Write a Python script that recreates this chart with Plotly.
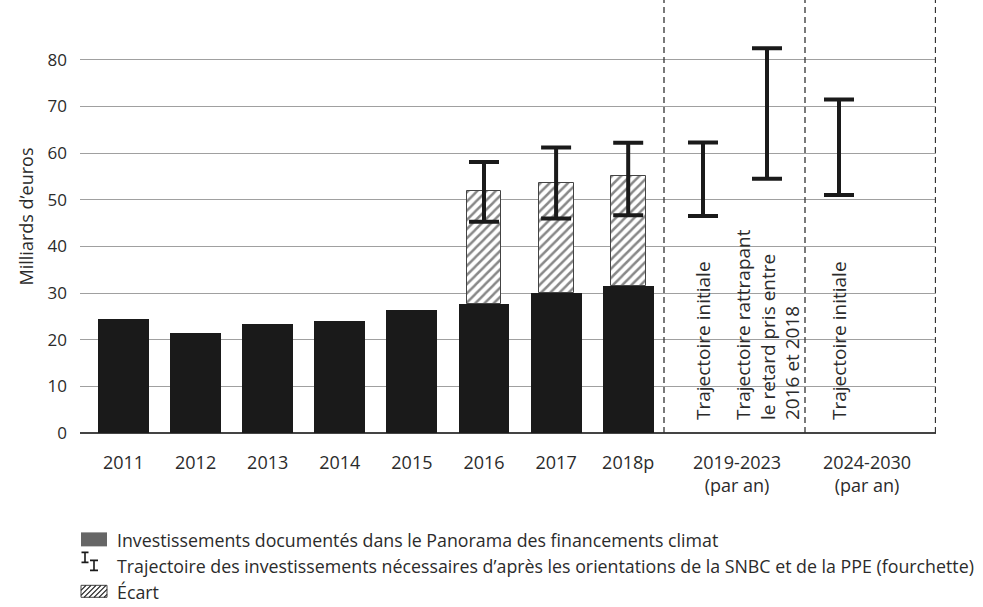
import plotly.graph_objects as go

# ---------------- data ----------------
years = ["2011", "2012", "2013", "2014", "2015", "2016", "2017", "2018p"]
invest = [24.4, 21.4, 23.4, 24.0, 26.3, 27.6, 30.0, 31.6]

ecart_years = ["2016", "2017", "2018p"]
ecart = [24.2, 23.5, 23.4]          # hatched part above documented investments
need_low = [45.3, 46.0, 46.7]
need_high = [58.1, 61.2, 62.2]

periods = ["2019-2023<br>(par an)", "2024-2030<br>(par an)"]
future_labels = ["Trajectoire initiale",
                 "Trajectoire rattrapant<br>le retard pris entre<br>2016 et 2018",
                 "Trajectoire initiale"]
future_low = [46.5, 54.5, 51.0]
future_high = [62.3, 82.5, 71.5]

legend_labels = [
    "Investissements documentés dans le Panorama des financements climat",
    "Trajectoire des investissements nécessaires d’après les orientations de la SNBC et de la PPE (fourchette)",
    "Écart",
]

# ---------------- layout helpers ----------------
FONT = "Open Sans"
TXT = "#2b2b2b"
INK = "#1a1a1a"
W, H = 983, 607
L, R, T, B = 80, 47, 0, 173.5
PW, PH = W - L - R, H - T - B
SPACING = 72.1
X0 = 123.5                      # pixel centre of first category


def xd(px):                     # pixel -> x data
    return (px - X0) / SPACING


def px2paper_x(px):
    return (px - L) / PW


def py2paper_y(py):
    return (H - B - py) / PH


YMAX = (H - B - T) / 4.67

x_years = list(range(len(years)))
x_ecart = [years.index(y) for y in ecart_years]
x_future = [xd(703), xd(767), xd(839)]
sep_x = [xd(664), xd(805), xd(935.5)]
period_x = [xd(737), xd(867)]

fig = go.Figure()

# hatched gap bars (behind)
fig.add_trace(go.Bar(
    x=x_ecart, y=ecart, base=[invest[i] for i in x_ecart], width=0.485,
    marker=dict(color="white", line=dict(color="#444", width=1),
                pattern=dict(shape="/", fgcolor="#111", bgcolor="white",
                             size=6.5, solidity=0.38)),
    showlegend=False, hoverinfo="skip"))

# documented investments
fig.add_trace(go.Bar(
    x=x_years, y=invest, width=0.707,
    marker=dict(color=INK, line=dict(width=0)),
    showlegend=False))

# needed ranges (past years)
fig.add_trace(go.Scatter(
    x=x_ecart, y=need_low, mode="markers",
    marker=dict(size=1, color="rgba(0,0,0,0)"),
    error_y=dict(type="data", symmetric=False,
                 array=[h - l for h, l in zip(need_high, need_low)],
                 arrayminus=[0] * len(need_low),
                 thickness=4, width=15, color=INK),
    showlegend=False))

# needed ranges (future periods)
fig.add_trace(go.Scatter(
    x=x_future, y=future_low, mode="markers",
    marker=dict(size=1, color="rgba(0,0,0,0)"),
    error_y=dict(type="data", symmetric=False,
                 array=[h - l for h, l in zip(future_high, future_low)],
                 arrayminus=[0] * len(future_low),
                 thickness=4, width=15, color=INK),
    showlegend=False))

shapes = []
for sx in sep_x:
    shapes.append(dict(type="line", xref="x", yref="paper", x0=sx, x1=sx,
                       y0=0, y1=1, line=dict(color="#333", width=1.3, dash="6px,4px")))

annotations = []
for xf, lab in zip(x_future, future_labels):
    annotations.append(dict(x=xf, y=(H - B - 423) / 4.67, xref="x", yref="y",
                            text=lab, textangle=-90, showarrow=False,
                            xanchor="center", yanchor="bottom", align="left",
                            font=dict(family=FONT, size=19, color=TXT)))

# ---------------- custom legend ----------------
rows_y = [540.5, 566.5, 592.5]
text_x = 115
# row 1: grey square
shapes.append(dict(type="rect", xref="paper", yref="paper",
                   x0=px2paper_x(81), x1=px2paper_x(107),
                   y0=py2paper_y(547), y1=py2paper_y(533),
                   fillcolor="#666", line=dict(width=0)))
# row 2: two small I-beams
for cx, top, bot, hw in [(85, 553, 563, 3.5), (94, 561, 571, 4)]:
    path = (f"M{px2paper_x(cx)},{py2paper_y(top)} L{px2paper_x(cx)},{py2paper_y(bot)} "
            f"M{px2paper_x(cx - hw)},{py2paper_y(top)} L{px2paper_x(cx + hw)},{py2paper_y(top)} "
            f"M{px2paper_x(cx - hw)},{py2paper_y(bot)} L{px2paper_x(cx + hw)},{py2paper_y(bot)}")
    shapes.append(dict(type="path", xref="paper", yref="paper", path=path,
                       line=dict(color=INK, width=1.6)))
# row 3: hatched square
hx0, hx1, hy0, hy1 = 81, 107, 586, 598
shapes.append(dict(type="rect", xref="paper", yref="paper",
                   x0=px2paper_x(hx0), x1=px2paper_x(hx1),
                   y0=py2paper_y(hy1), y1=py2paper_y(hy0),
                   fillcolor="white", line=dict(color="#444", width=1)))
segs = []
step = 5
h = hy1 - hy0
k = hx0 - h
while k < hx1:
    xa, ya = k, hy1
    xb, yb = k + h, hy0
    if xa < hx0:
        ya = hy1 - (hx0 - xa)
        xa = hx0
    if xb > hx1:
        yb = hy0 + (xb - hx1)
        xb = hx1
    if xb > xa:
        segs.append(f"M{px2paper_x(xa)},{py2paper_y(ya)} L{px2paper_x(xb)},{py2paper_y(yb)}")
    k += step
shapes.append(dict(type="path", xref="paper", yref="paper", path=" ".join(segs),
                   line=dict(color="#222", width=1.2)))

for ry, lab in zip(rows_y, legend_labels):
    annotations.append(dict(x=px2paper_x(text_x), y=py2paper_y(ry), xref="paper", yref="paper",
                            text=lab, showarrow=False, xanchor="left", yanchor="middle",
                            font=dict(family=FONT, size=17.8, color=TXT)))

fig.update_layout(
    width=W, height=H,
    margin=dict(l=L, r=R, t=T, b=B),
    plot_bgcolor="white", paper_bgcolor="white",
    barmode="overlay", bargap=0,
    shapes=shapes, annotations=annotations,
    font=dict(family=FONT, size=18, color=TXT),
    xaxis=dict(range=[xd(L), xd(W - R)], tickmode="array",
               tickvals=x_years + period_x, ticktext=years + periods,
               showgrid=False, zeroline=False, showline=False, ticks="",
               tickfont=dict(family=FONT, size=18, color=TXT), ticklabelstandoff=17),
    yaxis=dict(range=[0, YMAX], tickvals=[0, 10, 20, 30, 40, 50, 60, 70, 80],
               showgrid=True, gridcolor="#a0a0a0", gridwidth=1,
               zeroline=True, zerolinecolor="#444", zerolinewidth=2,
               showline=False, ticks="", ticklabelstandoff=12,
               tickfont=dict(family=FONT, size=17, color=TXT),
               title=dict(text="Milliards d’euros", standoff=9,
                          font=dict(family=FONT, size=18, color=TXT))),
)

fig.write_html("out.html", config={"displayModeBar": False},
               post_script="document.body.style.margin='0px';")
